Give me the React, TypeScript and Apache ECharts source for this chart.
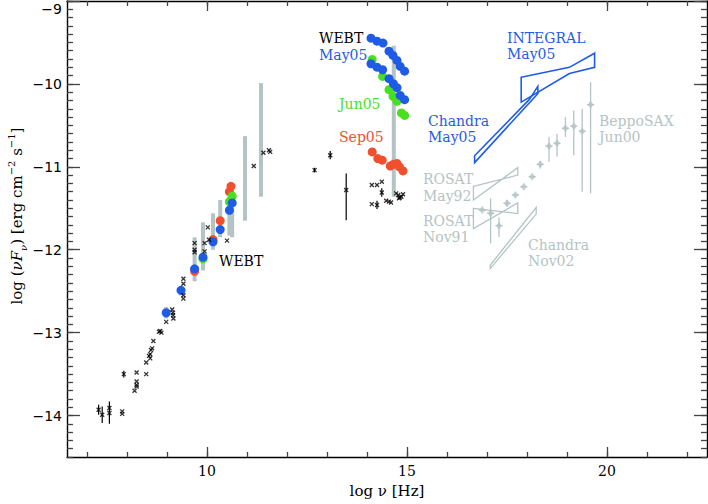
import React, { useEffect, useRef } from 'react';
import * as echarts from 'echarts';

// ---- axes ----
const X_MIN = 6.5;
const X_MAX = 22.5;
const Y_MIN = -14.5;
const Y_MAX = -9;
const X_MAJOR = [10, 15, 20];
const X_MINOR = [7, 8, 9, 10, 11, 12, 13, 14, 15, 16, 17, 18, 19, 20, 21, 22];
const Y_MAJOR = [-14, -13, -12, -11, -10, -9];
const Y_MINOR = Array.from({ length: 56 }, (_, i) => Math.round((-14.5 + i * 0.1) * 10) / 10);

// ---- WEBT grey bars: [log nu, low, high] ----
const webtBars = [
  [8.98, -12.83, -12.69],
  [9.35, -12.55, -12.45],
  [9.69, -12.38, -11.85],
  [9.9, -12.25, -11.67],
  [10.15, -12.0, -11.56],
  [10.33, -11.85, -11.4],
  [10.56, -11.83, -11.36],
  [10.63, -11.85, -11.3],
  [10.95, -11.65, -10.63],
  [11.35, -11.36, -9.99],
  [14.67, -11.36, -9.54],
];

// ---- WEBT May05 (blue) ----
const may05 = [
  [8.98, -12.76], [9.35, -12.49], [9.69, -12.23], [9.9, -12.09], [10.15, -11.905],
  [10.33, -11.757], [10.56, -11.524], [10.63, -11.436],
  [14.1, -9.448], [14.25, -9.484], [14.4, -9.508], [14.55, -9.605], [14.65, -9.657],
  [14.75, -9.717], [14.83, -9.789], [14.94, -9.846],
  [14.1, -9.757], [14.25, -9.798], [14.39, -9.829], [14.55, -9.937], [14.66, -9.998],
  [14.75, -10.046], [14.83, -10.139], [14.94, -10.19],
];

// ---- WEBT Jun05 (green) ----
const jun05 = [
  [9.9, -12.11], [10.56, -11.42], [10.63, -11.355],
  [14.13, -9.705], [14.39, -9.91], [14.55, -10.07], [14.65, -10.15], [14.75, -10.21],
  [14.86, -10.35], [14.94, -10.38],
];

// ---- WEBT Sep05 (red) ----
const sep05 = [
  [9.69, -12.26], [10.15, -11.877], [10.33, -11.65], [10.56, -11.3], [10.6, -11.235],
  [14.13, -10.82], [14.27, -10.9], [14.38, -10.92], [14.58, -10.99], [14.66, -10.97],
  [14.75, -10.96], [14.81, -11.0], [14.9, -11.05],
];

// ---- archival data (black crosses) ----
const archival = [
  [7.29, -13.93], [7.38, -13.99], [7.56, -13.91], [7.56, -13.97], [7.88, -13.95], [7.88, -13.98],
  [7.92, -13.5], [8.19, -13.7], [8.24, -13.48], [8.24, -13.59], [8.24, -13.63], [8.24, -13.65],
  [8.48, -13.5], [8.48, -13.36], [8.55, -13.28], [8.58, -13.26], [8.58, -13.31], [8.6, -13.21],
  [8.63, -13.19], [8.66, -13.1], [8.8, -12.99], [8.83, -12.98], [8.86, -13.0], [8.98, -12.87],
  [9.13, -12.72], [9.15, -12.76], [9.15, -12.79], [9.16, -12.83], [9.41, -12.35], [9.41, -12.41],
  [9.41, -12.55], [9.41, -12.59], [9.69, -12.03], [9.69, -11.92], [9.69, -12.0], [9.94, -11.92],
  [9.94, -12.02], [10.02, -11.73], [10.05, -11.88], [10.5, -11.89], [11.17, -10.99],
  [11.41, -10.83], [11.55, -10.8], [11.58, -10.82], [12.69, -11.04], [13.08, -10.86],
  [13.48, -11.28],
  [14.12, -11.22], [14.25, -11.22], [14.37, -11.18], [14.37, -11.31], [14.48, -11.41],
  [14.55, -11.42], [14.6, -11.43], [14.12, -11.45], [14.25, -11.46], [14.73, -11.32],
  [14.78, -11.34], [14.82, -11.37], [14.86, -11.36], [14.9, -11.33], [14.8, -11.38],
];
const archivalBars = [
  [7.29, -13.99, -13.87], [7.38, -14.09, -13.89], [7.56, -14.1, -13.83], [7.92, -13.54, -13.46],
  [12.69, -11.07, -11.01], [13.08, -10.91, -10.81], [13.48, -11.645, -11.08],
  [14.37, -11.36, -11.26], [14.25, -11.51, -11.41],
];

// ---- grey X-ray points (ROSAT / BeppoSAX) ----
const xrayPoints = [
  [16.88, -11.52], [17.09, -11.56], [17.3, -11.71], [17.5, -11.44], [17.71, -11.34],
  [17.92, -11.24], [18.13, -11.12], [18.33, -10.97], [18.55, -10.75], [18.75, -10.715],
  [18.96, -10.535], [19.17, -10.51], [19.38, -10.57], [19.59, -10.25],
];
const xrayBars = [
  [17.09, -11.925, -11.38], [17.3, -11.846, -11.61], [17.5, -11.48, -11.4], [18.33, -11.02, -10.93],
  [18.55, -10.94, -10.64], [18.75, -10.88, -10.6], [18.96, -10.64, -10.4], [19.17, -10.86, -10.32],
  [19.38, -11.3, -10.3], [19.59, -11.32, -9.98],
];

// ---- spectral bow-ties ----
const integralMay05 = [[17.855, -9.92], [19.06, -9.8], [19.69, -9.63], [19.69, -9.8], [19.06, -9.875], [17.855, -10.22]];
const chandraMay05 = [[16.69, -10.867], [18.06, -10.187], [18.27, -10.03], [18.27, -10.118], [16.69, -10.949]];
const rosatMay92 = [[16.66, -11.235], [17.77, -11.1], [17.77, -11.01], [16.66, -11.4]];
const rosatNov91 = [[16.66, -11.5], [17.77, -11.564], [17.77, -11.436], [16.66, -11.745]];
const chandraNov02 = [[17.08, -12.187], [18.23, -11.49], [18.23, -11.57], [17.08, -12.227]];

const BLUE = '#1f5ce6';
const GREEN = '#46e01e';
const RED = '#f0502e';
const GREY = '#b4c4c4';
const LABEL_FONT = 'DejaVu Serif';

const labels = [
  { text: 'WEBT', x: 319, y: 38, color: '#000' },
  { text: 'May05', x: 319, y: 55, color: BLUE },
  { text: 'Jun05', x: 339, y: 104, color: GREEN },
  { text: 'Sep05', x: 339, y: 137, color: RED },
  { text: 'WEBT', x: 219, y: 261, color: '#000' },
  { text: 'INTEGRAL', x: 507, y: 38, color: BLUE },
  { text: 'May05', x: 507, y: 54, color: BLUE },
  { text: 'Chandra', x: 428, y: 121, color: BLUE },
  { text: 'May05', x: 428, y: 137, color: BLUE },
  { text: 'BeppoSAX', x: 599, y: 121, color: GREY },
  { text: 'Jun00', x: 599, y: 137, color: GREY },
  { text: 'ROSAT', x: 423, y: 179, color: GREY },
  { text: 'May92', x: 423, y: 196, color: GREY },
  { text: 'ROSAT', x: 423, y: 221, color: GREY },
  { text: 'Nov91', x: 423, y: 237, color: GREY },
  { text: 'Chandra', x: 528, y: 245, color: GREY },
  { text: 'Nov02', x: 528, y: 261, color: GREY },
];

function segSeries(segs: number[][], color: string, width: number, z: number) {
  return {
    type: 'custom',
    data: segs,
    z,
    silent: true,
    encode: { x: [0, 2], y: [1, 3] },
    renderItem: (_p: any, api: any) => {
      const a = api.coord([api.value(0), api.value(1)]);
      const b = api.coord([api.value(2), api.value(3)]);
      return {
        type: 'line',
        shape: { x1: a[0], y1: a[1], x2: b[0], y2: b[1] },
        style: { stroke: color, lineWidth: width },
      };
    },
  };
}
const vBars = (bars: number[][]) => bars.map(([x, lo, hi]) => [x, lo, x, hi]);

function polySeries(pts: number[][], color: string, width: number) {
  return {
    type: 'custom',
    data: pts,
    z: 3,
    silent: true,
    encode: { x: 0, y: 1 },
    renderItem: (p: any, api: any) => {
      if (p.dataIndex !== 0) return { type: 'group', children: [] };
      return {
        type: 'polygon',
        shape: { points: pts.map((q) => api.coord(q)) },
        style: { fill: 'none', stroke: color, lineWidth: width, lineJoin: 'miter' },
      };
    },
  };
}

function dotSeries(data: number[][], color: string, z: number) {
  return {
    type: 'scatter',
    data,
    z,
    symbol: 'circle',
    symbolSize: 9,
    itemStyle: { color, opacity: 1 },
    silent: true,
  };
}

function xAxisDef(position: string, ticks: number[], len: number, line: boolean, label: boolean) {
  return {
    type: 'value',
    min: X_MIN,
    max: X_MAX,
    position,
    splitLine: { show: false },
    axisLine: { show: line, onZero: false, lineStyle: { color: '#000', width: 1.4 } },
    axisTick: { show: true, inside: true, length: len, customValues: ticks, lineStyle: { color: '#444', width: 1.3 } },
    axisLabel: label
      ? { show: true, customValues: X_MAJOR, margin: 7, color: '#000', fontFamily: 'DejaVu Serif', fontSize: 14 }
      : { show: false },
    ...(label
      ? {
          name: 'log ν [Hz]',
          nameLocation: 'middle',
          nameGap: 26,
          nameTextStyle: { color: '#000', fontFamily: 'DejaVu Serif', fontSize: 15 },
        }
      : {}),
  };
}

function yAxisDef(position: string, ticks: number[], len: number, line: boolean, label: boolean) {
  return {
    type: 'value',
    min: Y_MIN,
    max: Y_MAX,
    position,
    splitLine: { show: false },
    axisLine: { show: line, onZero: false, lineStyle: { color: '#000', width: 1.4 } },
    axisTick: { show: true, inside: true, length: len, customValues: ticks, lineStyle: { color: '#444', width: 1.3 } },
    axisLabel: label
      ? {
          show: true,
          customValues: Y_MAJOR,
          margin: 5,
          color: '#000',
          fontFamily: 'DejaVu Sans',
          fontSize: 14,
          formatter: (v: number) => (v === -9 ? '{t|\u22129}' : '\u2212' + Math.abs(v)),
          rich: { t: { padding: [15, 0, 0, 0], fontFamily: 'DejaVu Sans', fontSize: 14, color: '#000' } },
        }
      : { show: false },
  };
}

export default function App() {
  const ref = useRef<HTMLDivElement>(null);
  useEffect(() => {
    if (!ref.current) return;
    const chart = echarts.init(ref.current, null, { renderer: 'svg' });
    const option: any = {
      animation: false,
      backgroundColor: '#fff',
      grid: { left: 67, right: 1, top: 1, bottom: 47, containLabel: false },
      xAxis: [
        xAxisDef('bottom', X_MAJOR, 10, true, true),
        xAxisDef('bottom', X_MINOR, 5, false, false),
        xAxisDef('top', X_MAJOR, 10, true, false),
        xAxisDef('top', X_MINOR, 5, false, false),
      ],
      yAxis: [
        yAxisDef('left', Y_MAJOR, 13, true, true),
        yAxisDef('left', Y_MINOR, 6, false, false),
        yAxisDef('right', Y_MAJOR, 13, true, false),
        yAxisDef('right', Y_MINOR, 6, false, false),
      ],
      graphic: [
        {
          type: 'text',
          x: 17,
          y: 216,
          rotation: Math.PI / 2,
          style: {
            text: 'log ({i|νF}{s|ν}) [erg cm{p|−2} s{p|−1}]',
            fontFamily: 'DejaVu Serif',
            fontSize: 15,
            fill: '#000',
            align: 'center',
            verticalAlign: 'middle',
            rich: {
              i: { fontFamily: 'DejaVu Serif', fontStyle: 'italic', fontSize: 15, lineHeight: 22, verticalAlign: 'middle' },
              s: { fontFamily: 'DejaVu Serif', fontStyle: 'italic', fontSize: 10, lineHeight: 22, verticalAlign: 'bottom' },
              p: { fontFamily: 'DejaVu Serif', fontSize: 10, lineHeight: 22, verticalAlign: 'top' },
            },
          },
        },
        ...labels.map((l) => ({
          type: 'text',
          x: l.x,
          y: l.y,
          style: {
            text: l.text,
            fill: l.color,
            fontFamily: LABEL_FONT,
            fontSize: 14,
            align: 'left',
            verticalAlign: 'middle',
          },
        })),
      ],
      series: [
        segSeries(vBars(webtBars), GREY, 4, 1),
        segSeries(vBars(xrayBars), GREY, 1.3, 2),
        segSeries(xrayPoints.map(([x, y]) => [x - 0.09, y, x + 0.09, y]), GREY, 1.3, 2),
        {
          type: 'scatter',
          data: xrayPoints,
          z: 3,
          symbol: 'diamond',
          symbolSize: [6, 8],
          itemStyle: { color: GREY },
          silent: true,
        },
        polySeries(rosatMay92, GREY, 1.3),
        polySeries(rosatNov91, GREY, 1.3),
        polySeries(chandraNov02, GREY, 1.3),
        polySeries(integralMay05, BLUE, 1.6),
        polySeries(chandraMay05, BLUE, 1.6),
        dotSeries(sep05, RED, 4),
        dotSeries(jun05, GREEN, 5),
        dotSeries(may05, BLUE, 6),
        segSeries(vBars(archivalBars), '#000', 1.2, 7),
        {
          type: 'scatter',
          data: archival,
          z: 8,
          symbol: 'path://M0 0L10 10M10 0L0 10',
          symbolSize: 4,
          itemStyle: { color: 'none', borderColor: '#000', borderWidth: 1.3 },
          silent: true,
        },
      ],
    };
    chart.setOption(option);
    return () => chart.dispose();
  }, []);
  return (
    <div
      ref={ref}
      style={{ position: 'fixed', left: 0, top: 0, width: 708, height: 504, background: '#fff' }}
    />
  );
}
